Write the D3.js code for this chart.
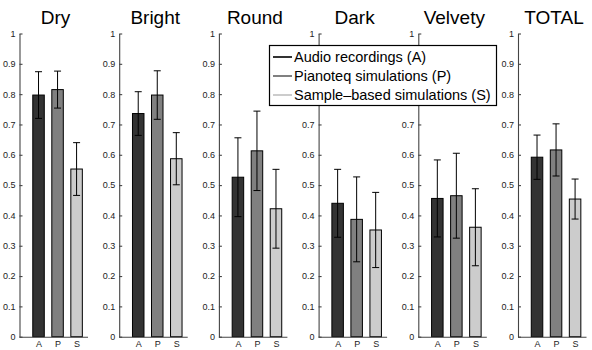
<!DOCTYPE html>
<html>
<head>
<meta charset="utf-8">
<script src="https://cdn.jsdelivr.net/npm/d3@7"></script>
<style>
  body { margin: 0; background: #fff; }
  svg { display: block; font-family: "Liberation Sans", Arial, Helvetica, sans-serif; }
  .title { font-size: 19px; fill: #000; }
  .tick text { font-size: 9px; fill: #222; }
  .legend-label { font-size: 14.5px; fill: #000; }
</style>
</head>
<body>
<div id="chart"></div>
<script>
/****************************************/
/*****  Data   *****/
/****************************************/
const attributes = ["Dry", "Bright", "Round", "Dark", "Velvety", "TOTAL"];
const groups = ["A", "P", "S"];
const seriesNames = ["Audio recordings (A)", "Pianoteq simulations (P)", "Sample\u2013based simulations (S)"];

const audioMeans     = [0.797, 0.736, 0.526, 0.440, 0.456, 0.592];
const pianoteqMeans  = [0.815, 0.797, 0.613, 0.387, 0.465, 0.616];
const sampleMeans    = [0.553, 0.587, 0.422, 0.352, 0.361, 0.454];

const audioErr     = [0.077, 0.072, 0.130, 0.112, 0.127, 0.073];
const pianoteqErr  = [0.061, 0.080, 0.131, 0.140, 0.140, 0.086];
const sampleErr    = [0.087, 0.086, 0.130, 0.124, 0.127, 0.066];

const yTicks = [0, 0.1, 0.2, 0.3, 0.4, 0.5, 0.6, 0.7, 0.8, 0.9, 1];

/****************************************/
/*****  Layout   *****/
/****************************************/
const width = 592;
const height = 350;
const firstAxisX = 19.5;
const panelStep = 99.7;
const axisLength = 68.5;
const barWidth = 11.5;
const capWidth = 7;
const fills = ["#333333", "#808080", "#cccccc"];

const svg = d3.select('#chart')
  .append('svg')
    .attr('width', width)
    .attr('height', height)
    .attr('viewBox', [0, 0, width, height]);

const y = d3.scaleLinear()
  .domain([0, 1])
  .range([336.7, 33.5]);

const means = [audioMeans, pianoteqMeans, sampleMeans];
const errs = [audioErr, pianoteqErr, sampleErr];

attributes.forEach((attr, i) => {
  const ax = firstAxisX + i * panelStep;
  const x = d3.scaleLinear()
    .domain([0, 3.6])
    .range([ax, ax + axisLength]);

  const panel = svg.append('g').attr('class', 'panel');

  // rows for this panel, one per group
  const rows = groups.map((g, k) => ({ group: g, k: k, value: means[k][i], err: errs[k][i] }));

  // bars
  panel.selectAll('rect')
    .data(rows)
    .join('rect')
      .attr('x', d => x(d.k + 1) - barWidth / 2)
      .attr('y', d => y(d.value))
      .attr('width', barWidth)
      .attr('height', d => y(0) - y(d.value))
      .attr('fill', d => fills[d.k])
      .attr('stroke', '#000')
      .attr('stroke-width', 1);

  // error bars
  const eb = panel.selectAll('.errbar')
    .data(rows)
    .join('g')
      .attr('class', 'errbar')
      .attr('stroke', '#000')
      .attr('stroke-width', 1);
  eb.append('line')
    .attr('x1', d => x(d.k + 1))
    .attr('x2', d => x(d.k + 1))
    .attr('y1', d => y(d.value + d.err))
    .attr('y2', d => y(d.value - d.err));
  eb.append('line')
    .attr('x1', d => x(d.k + 1) - capWidth / 2)
    .attr('x2', d => x(d.k + 1) + capWidth / 2)
    .attr('y1', d => y(d.value + d.err))
    .attr('y2', d => y(d.value + d.err));
  eb.append('line')
    .attr('x1', d => x(d.k + 1) - capWidth / 2)
    .attr('x2', d => x(d.k + 1) + capWidth / 2)
    .attr('y1', d => y(d.value - d.err))
    .attr('y2', d => y(d.value - d.err));

  // y axis, ticks pointing inward
  panel.append('g')
    .attr('transform', `translate(${ax},0)`)
    .call(d3.axisLeft(y).tickValues(yTicks).tickSizeInner(-3).tickSizeOuter(0).tickPadding(4).tickFormat(d3.format('~g')))
    .call(g => g.selectAll('path, line').attr('stroke', '#444').attr('stroke-width', 1.1))
    .call(g => g.selectAll('text').attr('font-family', null).attr('font-size', null));

  // x axis
  panel.append('g')
    .attr('transform', `translate(0,${y(0)})`)
    .call(d3.axisBottom(x).tickValues([1, 2, 3]).tickSize(0).tickPadding(4).tickFormat(d => groups[d - 1]))
    .call(g => g.select('.domain').attr('d', `M${ax},0.5H${ax + axisLength}`).attr('stroke', '#444').attr('stroke-width', 1.1))
    .call(g => g.selectAll('text').attr('font-family', null).attr('font-size', null));

  // title
  panel.append('text')
    .attr('class', 'title')
    .attr('x', ax + 36)
    .attr('y', 24)
    .attr('text-anchor', 'middle')
    .text(attr);
});

/****************************************/
/*****  Legend   *****/
/****************************************/
const legend = svg.append('g').attr('class', 'legend');
legend.append('rect')
  .attr('x', 269.5)
  .attr('y', 45.5)
  .attr('width', 227)
  .attr('height', 60)
  .attr('fill', '#fff')
  .attr('stroke', '#000')
  .attr('stroke-width', 1.2);

const legendRows = legend.selectAll('.legend-row')
  .data(seriesNames)
  .join('g')
    .attr('class', 'legend-row')
    .attr('transform', (d, k) => `translate(0,${57 + k * 19})`);
legendRows.append('line')
  .attr('x1', 273)
  .attr('x2', 292)
  .attr('y1', 0)
  .attr('y2', 0)
  .attr('stroke', (d, k) => fills[k])
  .attr('stroke-width', 2);
legendRows.append('text')
  .attr('class', 'legend-label')
  .attr('x', 294)
  .attr('y', 5)
  .text(d => d);
</script>
</body>
</html>
